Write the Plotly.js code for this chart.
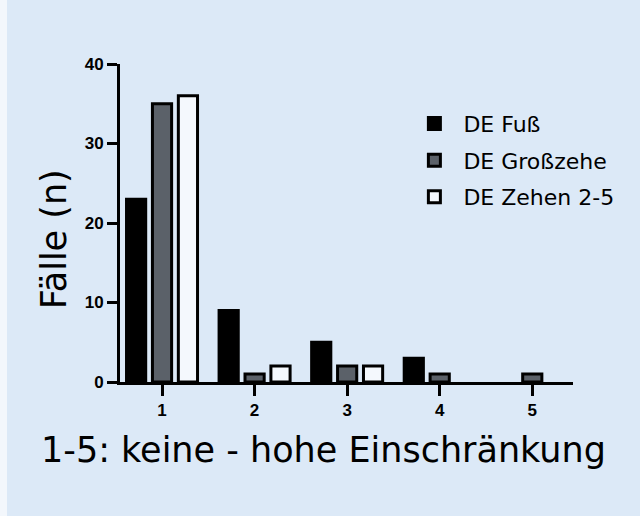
<!DOCTYPE html>
<html>
<head>
<meta charset="utf-8">
<script src="https://cdn.plot.ly/plotly-3.0.1.min.js"></script>
<style>
  html, body { margin: 0; padding: 0; background: #f3f7fc; }
  #chart { position: absolute; left: 7px; top: 0; width: 633px; height: 516px; }
</style>
</head>
<body>
<div id="chart"></div>
<script>
const categories = [1, 2, 3, 4, 5];
const seriesNames = ["DE Fuß", "DE Großzehe", "DE Zehen 2-5"];
const fuss = [23, 9, 5, 3, 0];
const grosszehe = [35, 1, 2, 1, 1];
const zehen = [36, 2, 2, 0, 0];
const yTicks = [0, 10, 20, 30, 40];
const xTitle = "1-5: keine - hohe Einschränkung";
const yTitle = "Fälle (n)";

const fills = ["#000000", "#5b6169", "#f4f8fd"];
const seriesValues = [fuss, grosszehe, zehen];

const traces = seriesValues.map((vals, i) => ({
  type: "bar",
  name: seriesNames[i],
  x: categories,
  y: vals,
  legendgroup: "g" + i,
  marker: {
    color: fills[i],
    line: { color: "#000000", width: vals.map(v => (v > 0 ? 3 : 0)) }
  },
  hoverinfo: "x+y+name"
}));

const titleFont = { family: "DejaVu Sans", size: 35, color: "#000" };
const tickFont = { family: "Liberation Sans, Arial, sans-serif", size: 17, color: "#000", weight: 700 };

const layout = {
  width: 633,
  height: 516,
  paper_bgcolor: "#dce9f7",
  plot_bgcolor: "#dce9f7",
  margin: { l: 113, r: 67, t: 64, b: 134 },
  barmode: "group",
  bargap: 0.16,
  bargroupgap: 0.26,
  showlegend: true,
  legend: {
    x: 0.63, y: 0.878, xanchor: "left", yanchor: "top",
    bgcolor: "rgba(0,0,0,0)",
    font: { family: "DejaVu Sans", size: 22, color: "#000" },
    traceorder: "grouped",
    tracegroupgap: 5,
    itemwidth: 48
  },
  xaxis: {
    range: [0.546, 5.44],
    tickvals: categories,
    ticktext: categories.map(String),
    ticks: "outside", ticklen: 11, tickwidth: 3, tickcolor: "#000",
    showline: true, linewidth: 3, linecolor: "#000",
    showgrid: false, zeroline: false,
    tickfont: tickFont
  },
  yaxis: {
    range: [0, 40],
    tickvals: yTicks,
    ticks: "outside", ticklen: 10, tickwidth: 3, tickcolor: "#000",
    showline: true, linewidth: 3, linecolor: "#000",
    showgrid: false, zeroline: false,
    tickfont: tickFont
  },
  annotations: [
    { text: xTitle, xref: "paper", yref: "paper", x: 0.45, y: -0.215,
      xanchor: "center", yanchor: "middle", showarrow: false, font: titleFont },
    { text: yTitle, xref: "paper", yref: "paper", x: -0.145, y: 0.45,
      xanchor: "center", yanchor: "middle", showarrow: false, textangle: -90, font: titleFont }
  ]
};

Plotly.newPlot("chart", traces, layout, { displayModeBar: false });
</script>
</body>
</html>
